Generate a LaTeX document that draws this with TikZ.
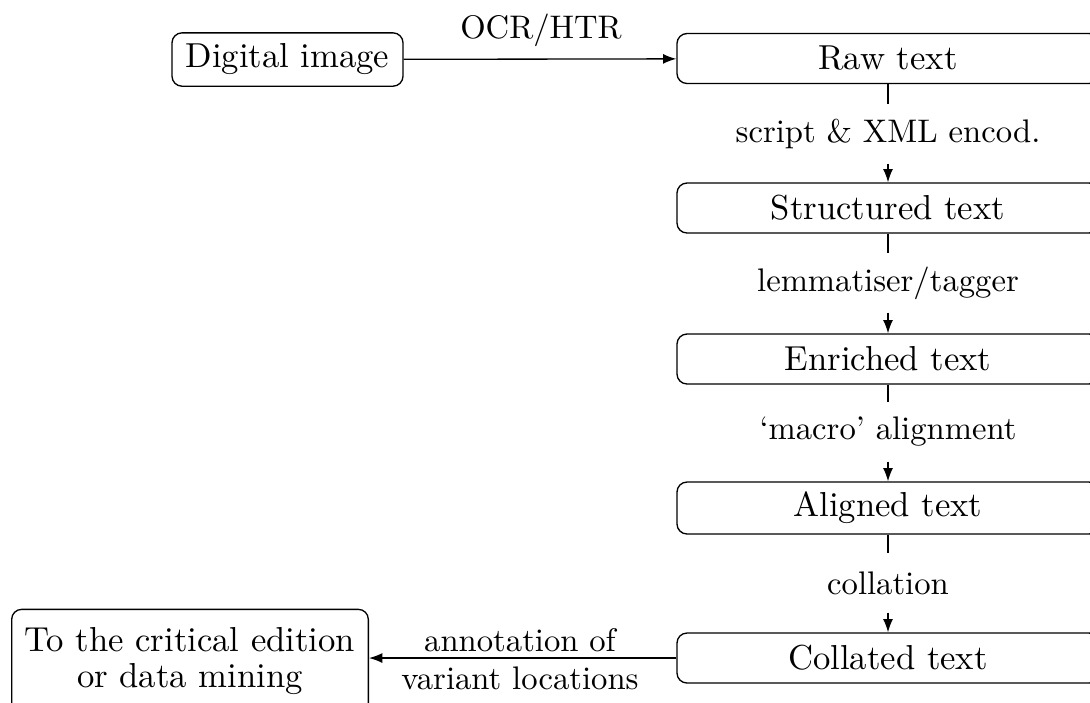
\documentclass[tikz,border=0pt]{standalone}
\usetikzlibrary{arrows.meta}
\begin{document}
\begin{tikzpicture}[x=0.3pt,y=-0.3pt,
  box/.style={draw,rounded corners=3pt,inner sep=3pt,line width=0.4pt,font=\fontsize{10.4}{13.5}\selectfont},
  wide/.style={box,minimum width=126.6pt,minimum height=15pt},
  lab/.style={inner sep=0pt,minimum height=17.4pt,font=\fontsize{9.8}{11.4}\selectfont},
  conn/.style={line width=0.4pt},
  arr/.style={conn,-{Latex[length=4pt,width=3pt]}}]
\useasboundingbox (0,0) rectangle (1090,702);
\clip (0,0) rectangle (1090,702);
\node[box,minimum width=69.3pt,minimum height=16pt] (img) at (287.5,59.5) {Digital image};
\node[wide] (raw) at (888,58.5) {Raw text};
\node[wide] (str) at (888,208) {Structured text};
\node[wide] (enr) at (888,359) {Enriched text};
\node[wide] (ali) at (888,508) {Aligned text};
\node[wide] (col) at (888,658) {Collated text};
\node[box,align=center,minimum width=107pt,minimum height=31pt,inner sep=3pt,font=\fontsize{10.4}{11}\selectfont] (fin) at (190,661) {To the critical edition\\or data mining};
\node[lab] (l0) at (541,30) {OCR/HTR};
\node[lab] (l1) at (888,134) {script \& XML encod.};
\node[lab] (l2) at (888,283) {lemmatiser/tagger};
\node[lab] (l3) at (888,432) {`macro' alignment};
\node[lab] (l4) at (888,583) {collation};
\node[lab,align=center,minimum height=0pt] (l5) at (520,659) {annotation of\\variant locations};
\draw[arr] (img) -- (raw);
\draw[conn] (raw) -- (l1); \draw[arr] (l1) -- (str);
\draw[conn] (str) -- (l2); \draw[arr] (l2) -- (enr);
\draw[conn] (enr) -- (l3); \draw[arr] (l3) -- (ali);
\draw[conn] (ali) -- (l4); \draw[arr] (l4) -- (col);
\draw[arr] (col) -- (col -| fin.east);
\end{tikzpicture}
\end{document}
